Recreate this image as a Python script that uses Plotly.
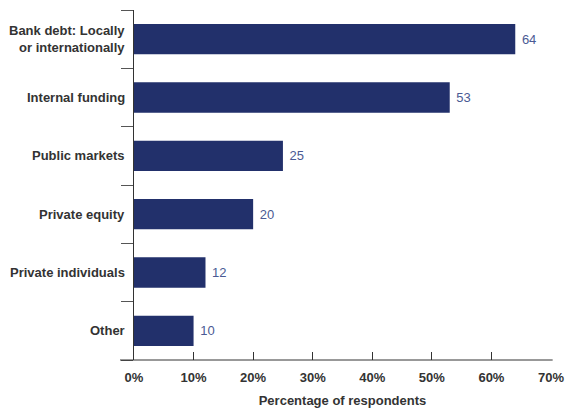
import plotly.graph_objects as go

# Funding sources, top to bottom
categories = [
    "Bank debt: Locally<br>or internationally",
    "Internal funding",
    "Public markets",
    "Private equity",
    "Private individuals",
    "Other",
]
values = [64, 53, 25, 20, 12, 10]
x_ticks = [0, 10, 20, 30, 40, 50, 60, 70]
x_tick_labels = [f"{t}%" for t in x_ticks]

BAR = "#22306b"
LABEL = "#4a5a94"
AXIS = "#333333"
FONT = "Liberation Sans, Arial, sans-serif"

# plot in reverse so the first category sits at the top
cats_r = categories[::-1]
vals_r = values[::-1]

fig = go.Figure(
    go.Bar(
        x=vals_r,
        y=cats_r,
        orientation="h",
        marker=dict(color=BAR, line=dict(width=0)),
        width=0.52,
        # leading space gives the value labels a little breathing room
        text=[f" {v}" for v in vals_r],
        textposition="outside",
        textfont=dict(family=FONT, size=13, color=LABEL),
        cliponaxis=False,
    )
)

fig.update_layout(
    width=567,
    height=408,
    margin=dict(l=134, r=16, t=10, b=48),
    paper_bgcolor="white",
    plot_bgcolor="white",
    showlegend=False,
    font=dict(family=FONT, color=AXIS),
    xaxis=dict(
        range=[0, 70],
        automargin=False,
        tickvals=x_ticks,
        ticktext=[f"<b>{t}</b>" for t in x_tick_labels],
        ticks="inside",
        ticklen=8,
        tickcolor=AXIS,
        tickwidth=1,
        showgrid=False,
        zeroline=False,
        showline=False,
        tickfont=dict(family=FONT, size=13, color=AXIS),
        ticklabelstandoff=8,
        title=dict(
            text="<b>Percentage of respondents</b>",
            font=dict(family=FONT, size=13, color=AXIS),
            standoff=11,
        ),
    ),
    yaxis=dict(
        type="category",
        automargin=False,
        categoryorder="array",
        categoryarray=cats_r,
        range=[-0.5, 5.5],
        tickson="boundaries",
        ticks="outside",
        ticklen=12,
        tickcolor="#555555",
        tickwidth=1,
        showticklabels=False,
        showgrid=False,
        zeroline=False,
        showline=True,
        linecolor=AXIS,
        linewidth=1,
    ),
)

# category labels, right-aligned just left of the axis
for c in cats_r:
    fig.add_annotation(
        x=0,
        xref="paper",
        y=c,
        yref="y",
        text=f"<b>{c}</b>",
        showarrow=False,
        xanchor="right",
        yanchor="middle",
        align="right",
        xshift=-7,
        font=dict(family=FONT, size=13, color=AXIS),
    )

# baseline extending a little past the left axis
fig.add_shape(
    type="line",
    xref="paper",
    yref="paper",
    x0=-14 / 417,
    x1=1.004,
    y0=0,
    y1=0,
    line=dict(color=AXIS, width=1),
)

fig.write_html("out.html")
